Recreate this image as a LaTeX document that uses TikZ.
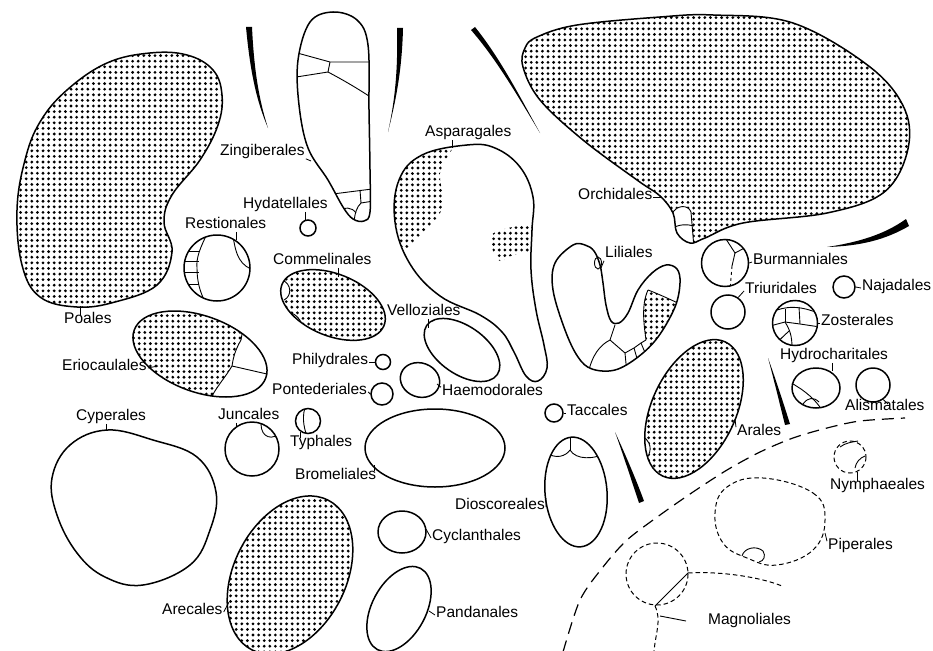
\documentclass[tikz,border=0pt]{standalone}
\usepackage{fontspec}
\setmainfont{Liberation Sans}

\tikzset{
  outl/.style={line width=1.5pt},
  inner/.style={line width=0.9pt},
  dashbig/.style={line width=1.2pt, dash pattern=on 12pt off 7pt},
  dashsm/.style={line width=1pt, dash pattern=on 4.5pt off 3pt},
  bar/.style={fill=black},
  cell/.style={circle, draw, line width=1.5pt, inner sep=0pt},
  lbl/.style={font=\fontsize{15.5}{17}\selectfont, inner sep=1pt, text height=0.72em, text depth=0.2em},
  tick/.style={line width=0.8pt},
}

% square grid of stipple dots: x0, y0, columns, rows (clip it first), one path per row
\newcommand{\stipplebox}[4]{%
  \foreach \j in {0,...,#4} {\fill \foreach \i in {0,...,#3} {({#1+5.6*\i},{#2+5.6*\j}) circle [radius=1.55]};}}

% outlines used twice (clip + draw)
\def\poapath{plot[smooth cycle, tension=0.65] coordinates {(150,53) (187,55) (213,70) (222,95) (218,125) (200,160) (172,195) (164,222) (172,252) (157,285) (115,302) (77,307) (40,297) (22,265) (17,210) (25,160) (40,122) (67,90) (107,63)}}
\def\zingpath{plot[smooth cycle, tension=0.6] coordinates {(333,12) (357,20) (368,45) (369,110) (370,170) (370,212) (364,221) (353,219) (343,207) (328,180) (308,148) (299,105) (298,60) (310,22)}}
\def\asppath{plot[smooth cycle, tension=0.65] coordinates {(467,145) (495,148) (520,167) (533,197) (532,230) (531,270) (536,310) (544,345) (547,368) (538,381) (526,376) (514,352) (502,332) (480,315) (440,296) (410,264) (395,222) (399,180) (422,155)}}
\def\orchpath{plot[smooth cycle, tension=0.6] coordinates {(537,37) (577,25) (660,17) (713,15) (793,23) (870,67) (905,110) (907,153) (883,193) (827,213) (743,223) (705,238) (690,243) (677,233) (673,213) (660,196) (637,180) (583,140) (540,100) (523,67) (525,48)}}
\def\lilipath{plot[smooth cycle, tension=0.6] coordinates {(573,245) (555,263) (553,290) (565,330) (578,357) (592,369) (615,370) (638,357) (658,337) (675,307) (680,283) (677,269) (666,265) (652,273) (638,290) (628,313) (619,323) (611,321) (606,305) (603,283) (600,265) (594,251) (585,245)}}
\def\cyppath{plot[smooth cycle, tension=0.65] coordinates {(107,430) (153,440) (197,457) (216,492) (210,530) (190,565) (143,585) (105,577) (77,553) (57,515) (52,478) (70,445)}}
\def\piperpath{plot[smooth cycle, tension=0.7] coordinates {(763,478) (813,493) (825,520) (813,550) (777,565) (747,558) (723,543) (715,513) (727,487)}}
\def\eriopath{[rotate around={-20:(200,354)}] (200,354) ellipse [x radius=70, y radius=38]}
\def\commpath{[rotate around={-22:(333,305)}] (333,305) ellipse [x radius=55, y radius=31]}
\def\arecpath{[rotate around={63:(290,575)}] (290,575) ellipse [x radius=84, y radius=56]}
\def\aralpath{[rotate around={65:(694,409)}] (694,409) ellipse [x radius=74, y radius=42]}

\begin{document}
\begin{tikzpicture}[x=1pt,y=-1pt]
\useasboundingbox (0,0) rectangle (933,650);

% tapered strokes between the groups
\fill[bar] (246,27) .. controls (250,70) and (256,100) .. (268,128) .. controls (259,100) and (254,70) .. (252,27) -- cycle;
\fill[bar] (397,28) .. controls (398,70) and (395,100) .. (388,132) .. controls (396,100) and (402,70) .. (403,28) -- cycle;
\fill[bar] (471,30) .. controls (497,60) and (517,95) .. (540,133) .. controls (519,95) and (500,58) .. (475,27) -- cycle;
\fill[bar] (827,247) .. controls (860,242) and (885,234) .. (906,219) -- (909,226) .. controls (885,240) and (860,246) .. (827,247) -- cycle;
\fill[bar] (768,358) .. controls (774,380) and (780,405) .. (785,425) -- (790,424) .. controls (784,405) and (776,380) .. (768,358) -- cycle;
\fill[bar] (615,432) .. controls (625,460) and (633,485) .. (639,503) -- (644,501) .. controls (637,482) and (627,458) .. (615,432) -- cycle;

% Poales
\begin{scope}
  \clip \poapath;
  \stipplebox{15}{50}{38}{47}
\end{scope}
\draw[outl] \poapath;

% Zingiberales
\begin{scope}
  \clip \zingpath;
  \draw[inner] (290,51) -- (330,62) -- (380,62);
  \draw[inner] (330,62) -- (328,72);
  \draw[inner] (290,78) -- (328,72) .. controls (343,80) and (357,88) .. (375,100);
  \draw[inner] (325,195) -- (380,188);
  \draw[inner] (360,190) -- (361,203) -- (380,200);
  \draw[inner] (361,203) .. controls (357,207) and (355,212) .. (354,222);
  \draw[inner] (338,213) .. controls (344,206) and (352,207) .. (356,213);
\end{scope}
\draw[outl] \zingpath;

% Asparagales
\begin{scope}
  \clip \asppath;
  \begin{scope}
    \clip (380,135) -- (456,135) -- plot[smooth] coordinates {(453,148) (440,173) (443,207) (423,233) (407,248)} -- (380,255) -- cycle;
    \stipplebox{390}{140}{12}{21}
  \end{scope}
  \begin{scope}
    \clip plot[smooth cycle] coordinates {(495,232) (535,225) (540,250) (513,255) (500,261) (491,245)};
    \stipplebox{488}{222}{10}{8}
  \end{scope}
\end{scope}
\draw[outl] \asppath;

% Orchidales
\begin{scope}
  \clip \orchpath;
  \stipplebox{520}{12}{70}{42}
  \fill[white] (668,245) -- (672,214) .. controls (676,205) and (688,204) .. (691,212) -- (694,248) -- cycle;
  \draw[inner] (672,214) .. controls (676,205) and (688,204) .. (691,212) -- (694,248);
  \draw[inner] (670,229) .. controls (680,224) and (686,224) .. (694,226);
\end{scope}
\draw[outl] \orchpath;

% Liliales
\begin{scope}
  \clip \lilipath;
  \begin{scope}
    \clip (648,290) .. controls (656,293) and (665,297) .. (676,303) -- (692,300) -- (692,352) -- (650,352) -- (646,340) .. controls (644,325) and (641,305) .. (648,290);
    \stipplebox{640}{288}{10}{12}
  \end{scope}
  \draw[inner] (615,325) -- (610,340);
  \draw[inner] (610,340) .. controls (600,345) and (592,355) .. (588,374);
  \draw[inner] (610,340) -- (625,353) -- (627,374);
  \draw[inner] (625,353) -- (634,348) -- (641,343) -- (646,340);
  \draw[inner] (634,348) -- (638,362);
  \draw[inner] (641,343) -- (646,355);
  \draw[inner] (646,340) .. controls (644,325) and (641,305) .. (648,290);
  \draw[inner] (648,290) .. controls (656,293) and (665,297) .. (680,304);
\end{scope}
\draw[outl] \lilipath;
\draw[inner] (598,263) ellipse [x radius=3.5, y radius=6];

% Cyperales
\draw[outl] \cyppath;

% Eriocaulales
\begin{scope}
  \clip \eriopath;
  \begin{scope}
    \clip (120,290) -- (245,290) -- (241,340) .. controls (234,352) and (233,360) .. (232,366) .. controls (225,378) and (215,388) .. (210,402) -- (120,410) -- cycle;
    \stipplebox{128}{310}{22}{17}
  \end{scope}
  \draw[inner] (244,322) -- (241,340) .. controls (234,352) and (233,360) .. (232,366) .. controls (225,378) and (215,388) .. (208,404);
  \draw[inner] (232,366) -- (280,377);
\end{scope}
\draw[outl] \eriopath;

% Commelinales
\begin{scope}
  \clip \commpath;
  \stipplebox{275}{268}{21}{14}
  \fill[white] (282,280) .. controls (292,284) and (292,296) .. (284,300) -- (270,300) -- (270,280) -- cycle;
  \draw[inner] (282,280) .. controls (292,284) and (292,296) .. (284,300);
  \fill[white] (286,312) .. controls (294,312) and (302,318) .. (305,334) -- (280,334) -- cycle;
  \draw[inner] (286,312) .. controls (294,312) and (302,318) .. (305,334);
\end{scope}
\draw[outl] \commpath;

% Arecales
\begin{scope}
  \clip \arecpath;
  \stipplebox{225}{495}{24}{29}
\end{scope}
\draw[outl] \arecpath;

% Arales
\begin{scope}
  \clip \aralpath;
  \stipplebox{643}{337}{19}{26}
  \fill[white] (640,434) .. controls (652,442) and (652,450) .. (647,458) -- (640,458) -- cycle;
  \draw[inner] (640,434) .. controls (652,442) and (652,450) .. (647,458);
\end{scope}
\draw[outl] \aralpath;

% plain ellipses
\draw[outl, rotate around={-35:(462,350)}] (462,350) ellipse [x radius=43, y radius=24];
\draw[outl, rotate around={-20:(420,380)}] (420,380) ellipse [x radius=20, y radius=17];
\draw[outl] (435,448) ellipse [x radius=70, y radius=39];
\draw[outl] (402,532) ellipse [x radius=24, y radius=21];
\draw[outl, rotate around={62:(399,609)}] (399,609) ellipse [x radius=46, y radius=27];
\begin{scope}
  \clip[rotate around={5:(576,492)}] (576,492) ellipse [x radius=31, y radius=55];
  \draw[inner] (545,452) .. controls (556,460) and (566,456) .. (570,450);
  \draw[inner] (570,450) .. controls (576,460) and (594,460) .. (608,452);
  \draw[inner] (570,450) -- (570,430);
\end{scope}
\draw[outl, rotate around={5:(576,492)}] (576,492) ellipse [x radius=31, y radius=55];
\draw[outl] (816,388) ellipse [x radius=24, y radius=20];
\begin{scope}
  \clip (816,388) ellipse [x radius=24, y radius=20];
  \draw[inner] (788,381) .. controls (800,388) and (812,395) .. (822,410);
  \draw[inner] (803,404) .. controls (808,397) and (814,397) .. (819,402);
\end{scope}

% circles
\node[cell, minimum size=16pt] (hyd) at (308,228) {};
\node[cell, minimum size=66pt] (rest) at (217,268) {};
\node[cell, minimum size=15pt] (phil) at (383,362) {};
\node[cell, minimum size=22pt] (pont) at (382,394) {};
\node[cell, minimum size=25pt] (typh) at (308,421) {};
\node[cell, minimum size=54pt] (junc) at (252,449) {};
\node[cell, minimum size=18pt] (tacc) at (554,413) {};
\node[cell, minimum size=47pt] (burm) at (725,263) {};
\node[cell, minimum size=34pt] (triu) at (728,312) {};
\node[cell, minimum size=22pt] (naja) at (844,287) {};
\node[cell, minimum size=45pt] (zost) at (795,323) {};
\node[cell, minimum size=34pt] (alis) at (873,385) {};

% cells inside the circles
\begin{scope}
  \clip (217,268) circle [radius=33];
  \draw[inner] (208,232) .. controls (200,248) and (196,258) .. (197,268) .. controls (197,282) and (200,292) .. (206,304);
  \foreach \yy in {251,261,272,284} \draw[inner] (180,\yy) -- (198.5,\yy);
  \draw[inner] (233,236) .. controls (236,256) and (240,266) .. (256,271);
\end{scope}
\begin{scope}
  \clip (725,263) circle [radius=23];
  \draw[inner] (724,236) -- (735,253) -- (752,244);
  \draw[inner] (735,253) -- (732,266);
  \draw[inner, dashed] (732,266) -- (730,290);
\end{scope}
\begin{scope}
  \clip (795,323) circle [radius=22];
  \draw[inner] (772,312) .. controls (785,306) and (800,305) .. (820,314);
  \draw[inner] (785,309) -- (785,322);
  \draw[inner] (799,307) -- (800,324);
  \draw[inner] (770,326) -- (785,322) -- (800,324) -- (820,327);
  \draw[inner] (785,322) .. controls (790,330) and (792,336) .. (792,348);
  \draw[inner] (776,344) .. controls (781,338) and (786,334) .. (789,331);
\end{scope}
\begin{scope}
  \clip (252,449) circle [radius=27];
  \draw[inner] (261,424) .. controls (261,438) and (273,441) .. (281,432);
\end{scope}
\begin{scope}
  \clip (308,421) circle [radius=12.5];
  \draw[inner] (306,405) .. controls (302,414) and (303,426) .. (307,436);
\end{scope}

% magnoliid side
\draw[dashbig] plot[smooth] coordinates {(563,652) (580,600) (603,567) (627,540) (660,515) (693,492) (727,470) (760,452) (793,438) (827,428) (860,421) (905,418)};
\draw[dashsm] (850,457) circle [radius=16];
\draw[inner] (840,447) .. controls (845,443) and (852,442) .. (858,441);
\draw[inner] (855,468) .. controls (856,462) and (860,458) .. (865,456);
\draw[dashsm] \piperpath;
\draw[inner] (742,556) .. controls (744,548) and (756,545) .. (763,551) .. controls (766,556) and (764,561) .. (759,562);
\draw[dashsm] (657,574) circle [radius=31];
\coordinate (magn-j) at (688,573);
\coordinate (magn-k) at (655,606);
\coordinate (magn-e) at (782,586);
\coordinate (magn-s) at (660,616);
\coordinate (magn-f) at (686,621);
\draw[dashsm] (magn-j) .. controls (720,571) and (760,577) .. (magn-e);
\draw[inner] (magn-j) -- (magn-k);
\draw[dashsm] (magn-k) .. controls (662,620) and (655,635) .. (654,652);
\draw[inner] (magn-s) -- (magn-f);

% labels
\node[lbl, anchor=west] (poa-l) at (63,321) {Poales};
\node[lbl, anchor=west] (zing-l) at (219,153) {Zingiberales};
\node[lbl, anchor=west] (hyd-l) at (242,206) {Hydatellales};
\node[lbl, anchor=west] (rest-l) at (184,226) {Restionales};
\node[lbl, anchor=west] (comm-l) at (272,262) {Commelinales};
\node[lbl, anchor=west] (aspa-l) at (424,134) {Asparagales};
\node[lbl, anchor=west] (orch-l) at (577,197) {Orchidales};
\node[lbl, anchor=west] (lili-l) at (604,255) {Liliales};
\node[lbl, anchor=west] (burm-l) at (752,262) {Burmanniales};
\node[lbl, anchor=west] (triu-l) at (744,291) {Triuridales};
\node[lbl, anchor=west] (naja-l) at (861,288) {Najadales};
\node[lbl, anchor=west] (zost-l) at (820,323) {Zosterales};
\node[lbl, anchor=west] (hydr-l) at (779,357) {Hydrocharitales};
\node[lbl, anchor=west] (alis-l) at (844,408) {Alismatales};
\node[lbl, anchor=west] (aral-l) at (736,433) {Arales};
\node[lbl, anchor=west] (vell-l) at (386,313) {Velloziales};
\node[lbl, anchor=west] (phil-l) at (291,362) {Philydrales};
\node[lbl, anchor=west] (pont-l) at (271,392) {Pontederiales};
\node[lbl, anchor=west] (haem-l) at (441,393) {Haemodorales};
\node[lbl, anchor=west] (tacc-l) at (566,413) {Taccales};
\node[lbl, anchor=west] (erio-l) at (61,368) {Eriocaulales};
\node[lbl, anchor=west] (cype-l) at (75,418) {Cyperales};
\node[lbl, anchor=west] (junc-l) at (217,417) {Juncales};
\node[lbl, anchor=west] (typh-l) at (289,444) {Typhales};
\node[lbl, anchor=west] (brom-l) at (294,477) {Bromeliales};
\node[lbl, anchor=west] (dios-l) at (454,507) {Dioscoreales};
\node[lbl, anchor=west] (cycl-l) at (431,538) {Cyclanthales};
\node[lbl, anchor=west] (arec-l) at (161,612) {Arecales};
\node[lbl, anchor=west] (pand-l) at (435,615) {Pandanales};
\node[lbl, anchor=west] (nymp-l) at (829,487) {Nymphaeales};
\node[lbl, anchor=west] (pipe-l) at (827,547) {Piperales};
\node[lbl, anchor=west] (magn-l) at (707,622) {Magnoliales};

% label ticks
\coordinate (poa-t) at (80,306);
\coordinate (zing-t) at (311,161);
\coordinate (comm-t) at (338,277);
\coordinate (aspa-t) at (452,148);
\coordinate (orch-t) at (661,197);
\coordinate (lili-t) at (601,268);
\coordinate (hydr-t) at (832,371);
\coordinate (alis-t) at (888,404);
\coordinate (aral-t) at (735,419);
\coordinate (vell-t) at (428,328);
\coordinate (haem-t) at (437,384);
\coordinate (erio-t) at (158,366);
\coordinate (cype-t) at (106,430);
\coordinate (brom-t) at (374,465);
\coordinate (dios-t) at (546,498);
\coordinate (cycl-t) at (426,529);
\coordinate (arec-t) at (229,602);
\coordinate (pand-t) at (429,611);
\coordinate (nymp-t) at (857,472);
\coordinate (pipe-t) at (825,533);
\draw[tick] (poa-l.north -| poa-t) -- (poa-t);
\draw[tick] (zing-l.south east) -- (zing-t);
\draw[tick] (hyd-l.south -| hyd.110) -- (hyd.110);
\draw[tick] (rest-l.south -| rest.55) -- (rest.55);
\draw[tick] (comm-l.south -| comm-t) -- (comm-t);
\draw[tick] (aspa-l.south -| aspa-t) -- (aspa-t);
\draw[tick] (orch-l.east) -- (orch-t);
\draw[tick] (lili-l.south west) -- (lili-t);
\draw[tick] (burm.east) -- (burm-l.west);
\draw[tick] (triu.55) -- (triu-l.west);
\draw[tick] (naja.east) -- (naja-l.west);
\draw[tick] (zost.east) -- (zost-l.west);
\draw[tick] (hydr-l.south -| hydr-t) -- (hydr-t);
\draw[tick] (alis.-55) -- (alis-t);
\draw[tick] (aral-l.north west) -- (aral-t);
\draw[tick] (vell-l.south -| vell-t) -- (vell-t);
\draw[tick] (phil-l.east) -- (phil.west);
\draw[tick] (pont-l.east) -- (pont.west);
\draw[tick] (haem-l.north west) -- (haem-t);
\draw[tick] (tacc.east) -- (tacc-l.west);
\draw[tick] (erio-l.east) -- (erio-t);
\draw[tick] (cype-l.south -| cype-t) -- (cype-t);
\draw[tick] (junc-l.south -| junc.125) -- (junc.125);
\draw[tick] (typh-l.north -| typh.235) -- (typh.235);
\draw[tick] (brom-l.north -| brom-t) -- (brom-t);
\draw[tick] (dios-l.east) -- (dios-t);
\draw[tick] (cycl-t) -- (cycl-l.west);
\draw[tick] (arec-l.east) -- (arec-t);
\draw[tick] (pand-t) -- (pand-l.west);
\draw[tick] (nymp-l.north -| nymp-t) -- (nymp-t);
\draw[tick] (pipe-t) -- (pipe-l.north west);

\end{tikzpicture}
\end{document}
